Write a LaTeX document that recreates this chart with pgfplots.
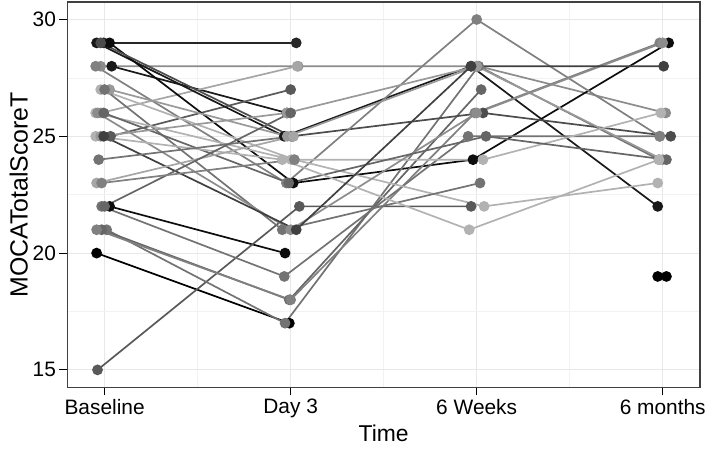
\documentclass[border=0pt]{standalone}
\usepackage{pgfplots}
\pgfplotsset{compat=1.18}
\usepackage{fontspec}
\setmainfont{Liberation Sans}
\begin{document}
\begin{tikzpicture}
\begin{axis}[
  scale only axis, width=633.5bp, height=386bp,
  xmin=-0.2, xmax=3.2, ymin=14.25, ymax=30.75,
  xtick={0,1,2,3}, xticklabels={Baseline, Day 3, 6 Weeks, 6 months},
  ytick={15,20,25,30},
  minor xtick={0.5,1.5,2.5}, minor ytick={17.5,22.5,27.5},
  grid=both,
  major grid style={color=black!9, line width=1bp},
  minor grid style={color=black!5, line width=0.6bp},
  axis line style={draw=black!75, line width=1.2bp},
  tick align=outside, major tick length=8bp, minor tick length=0bp,
  tick style={black, line width=1.1bp},
  xtick pos=bottom, ytick pos=left,
  /pgf/number format/assume math mode=true,
  ticklabel style={font=\fontsize{21}{21}\selectfont},
  xlabel={Time}, ylabel={MOCATotalScoreT},
  xlabel style={font=\fontsize{23}{23}\selectfont},
  ylabel style={font=\fontsize{25}{25}\selectfont, yshift=-2bp},
  every axis plot/.append style={line width=1.7bp, mark=*, mark size=4.5bp, mark options={solid}},
]
\addplot[black!85] coordinates {(-0.005,29) (1.03,29)};
\addplot[black!45] coordinates {(-0.021,28) (1.04,28) (2.01,28) (3.016,26)};
\addplot[black!90] coordinates {(0.038,28) (0.98,26)};
\addplot[black!35] coordinates {(-0.021,26) (1.035,28)};
\addplot[black!65] coordinates {(0.032,25) (1.0,27)};
\addplot[black!90] coordinates {(-0.043,29) (0.966,25) (1.97,28) (2.973,22)};
\addplot[black!95] coordinates {(0.027,29) (1.014,23) (1.98,24) (3.032,29)};
\addplot[black] coordinates {(-0.043,20) (0.993,17)};
\addplot[black!95] coordinates {(0.027,22) (0.97,20)};
\addplot[black!65] coordinates {(-0.038,15) (1.047,22) (1.97,22)};
\addplot[black!55] coordinates {(0.011,21) (0.97,17) (2.01,28) (2.98,24)};
\addplot[black!60] coordinates {(-0.016,21) (0.993,18) (2.024,27)};
\addplot[black!50] coordinates {(-0.043,21) (1.0,18) (1.99,26) (2.984,29)};
\addplot[black!55] coordinates {(-0.016,22) (0.966,19) (1.954,25) (2.984,25)};
\addplot[black!70] coordinates {(-0.021,29) (1.004,25) (2.034,26) (3.043,25)};
\addplot[black!50] coordinates {(-0.048,28) (0.977,23) (2.0,30) (2.984,25)};
\addplot[black!40] coordinates {(0.027,27) (0.982,25) (2.0,28) (3.0,24)};
\addplot[black!30] coordinates {(-0.021,27) (1.02,24) (2.04,22) (2.973,23)};
\addplot[black!55] coordinates {(0.0,27) (0.955,21) (2.018,23)};
\addplot[black!30] coordinates {(-0.048,26) (1.004,24) (2.034,24) (2.99,26)};
\addplot[black!45] coordinates {(-0.038,26) (1.0,21) (2.0,26) (3.0,29)};
\addplot[black!60] coordinates {(-0.005,26) (0.99,23) (2.05,25) (3.02,24)};
\addplot[black!30] coordinates {(-0.048,25) (0.955,24) (1.96,21) (2.98,24)};
\addplot[black!40] coordinates {(-0.021,25) (0.98,26) (2.0,28)};
\addplot[black!75] coordinates {(-0.005,25) (1.03,21) (1.97,28) (3.005,28)};
\addplot[black!55] coordinates {(-0.032,24) (1.014,25)};
\addplot[black!35] coordinates {(-0.043,23) (1.014,25)};
\addplot[black!60] coordinates {(0.0,22) (1.0,26)};
\addplot[black!50] coordinates {(-0.016,23) (1.02,24)};
\addplot[black] coordinates {(2.973,19)};
\addplot[black] coordinates {(3.02,19)};
\end{axis}
\path[use as bounding box] (-67.5bp,-62bp) rectangle (641.5bp,388bp);
\end{tikzpicture}
\end{document}
